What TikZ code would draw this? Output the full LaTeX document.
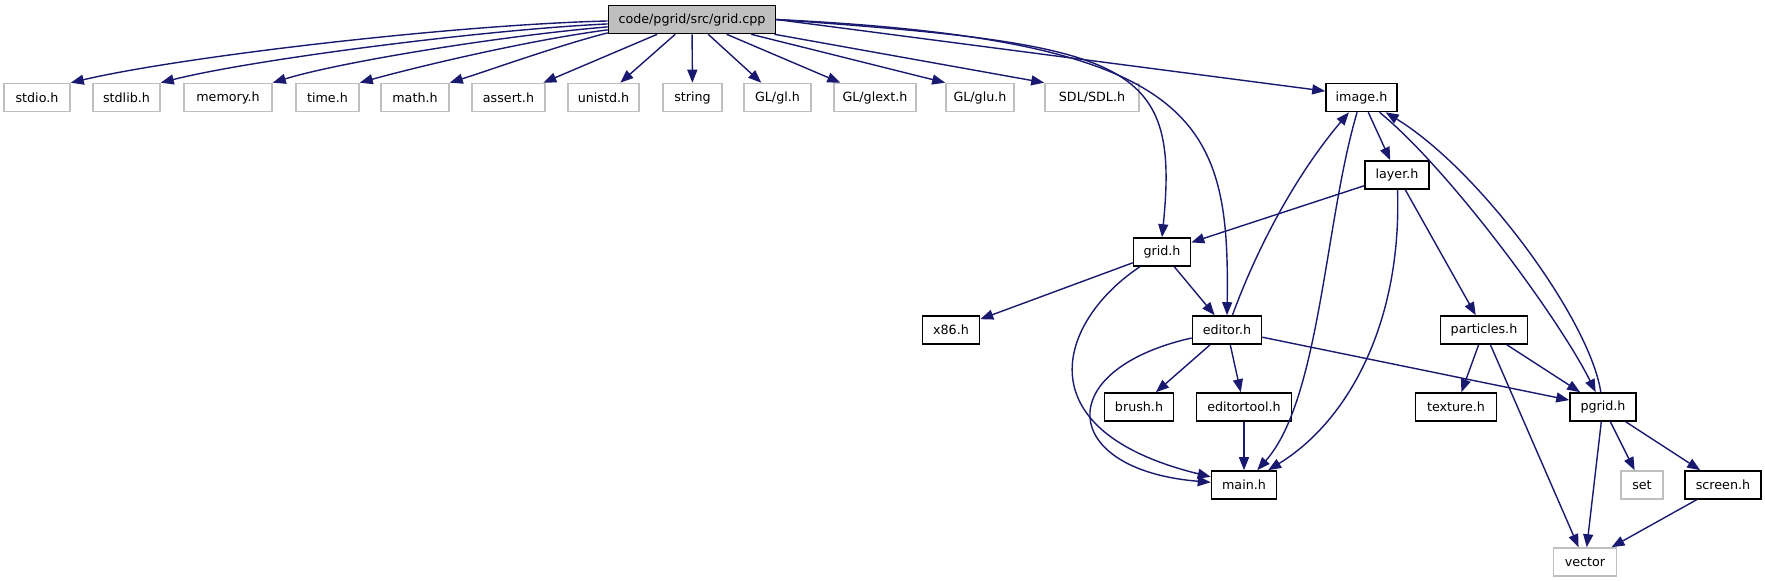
\documentclass[tikz,border=0pt]{standalone}
\usepackage{fontspec}
\setmainfont{DejaVu Sans}
\usetikzlibrary{arrows.meta}
\definecolor{edgeblue}{HTML}{191970}
\tikzset{
  hd/.style={rectangle,draw=black,fill=white,line width=1.6pt,minimum height=28pt,inner sep=0pt,font=\fontsize{12.7}{15}\selectfont},
  sys/.style={hd,draw=black!25},
  srcf/.style={hd,fill=black!25},
  dep/.style={draw=edgeblue,line width=1.4pt,-{Triangle[length=13pt,width=10pt]}},
}
\begin{document}
\begin{tikzpicture}[x=1pt,y=-1pt]
\useasboundingbox (0,0) rectangle (1765,581);
% the file itself
\node[srcf,minimum width=167pt] (root) at (692,19.5) {code/pgrid/src/grid.cpp};
% system and library headers
\node[sys,minimum width=66pt] (stdio) at (37,97.5) {stdio.h};
\node[sys,minimum width=67pt] (stdlib) at (126.5,97.5) {stdlib.h};
\node[sys,minimum width=88pt] (memory) at (228,97.5) {memory.h};
\node[sys,minimum width=63pt] (time) at (327.5,97.5) {time.h};
\node[sys,minimum width=68pt] (math) at (415,97.5) {math.h};
\node[sys,minimum width=73pt] (assert) at (508.5,97.5) {assert.h};
\node[sys,minimum width=71pt] (unistd) at (603.5,97.5) {unistd.h};
\node[sys,minimum width=59pt] (string) at (692.5,97.5) {string};
\node[sys,minimum width=67pt] (gl) at (777.5,97.5) {GL/gl.h};
\node[sys,minimum width=82pt] (glext) at (875,97.5) {GL/glext.h};
\node[sys,minimum width=68pt] (glu) at (980,97.5) {GL/glu.h};
\node[sys,minimum width=94pt] (sdl) at (1092,97.5) {SDL/SDL.h};
% project headers
\node[hd,minimum width=71pt] (image) at (1361.5,97.5) {image.h};
\node[hd,minimum width=64pt] (layer) at (1397,175) {layer.h};
\node[hd,minimum width=57pt] (grid) at (1162,252) {grid.h};
\node[hd,minimum width=57pt] (x86) at (951,330) {x86.h};
\node[hd,minimum width=69pt] (editor) at (1227,330) {editor.h};
\node[hd,minimum width=87pt] (particles) at (1484,330) {particles.h};
\node[hd,minimum width=69pt] (brush) at (1139,407) {brush.h};
\node[hd,minimum width=95pt] (editortool) at (1244,407) {editortool.h};
\node[hd,minimum width=81pt] (texture) at (1456,407) {texture.h};
\node[hd,minimum width=66pt] (pgrid) at (1603,407) {pgrid.h};
\node[hd,minimum width=65pt] (mainh) at (1244,485) {main.h};
\node[sys,minimum width=42pt] (set) at (1642,485) {set};
\node[hd,minimum width=76pt] (screen) at (1723,485) {screen.h};
\node[sys,minimum width=63pt] (vector) at (1585,562) {vector};

% edges out of grid.cpp
\draw[dep] (root.181) .. controls (450,25) and (180,57) .. (stdio.north east);
\draw[dep] (root.183) .. controls (480,30) and (250,60) .. (stdlib.north east);
\draw[dep] (root.185) .. controls (500,36) and (340,62) .. (memory.north east);
\draw[dep] (root.187) .. controls (530,40) and (420,66) .. (time.north east);
\draw[dep] (root.189) .. controls (560,45) and (490,70) .. (math.north east);
\foreach \t in {assert,unistd,string,gl,glext}
  \draw[dep] (root) -- (\t);
\draw[dep] (root) -- (glu.north west);
\draw[dep] (root) -- (sdl.north west);
\draw[dep] (root.east) -- (image.170);
\draw[dep] (root.east) .. controls (1130,45) and (1180,60) .. (grid.north);
\draw[dep] (root.east) .. controls (1200,40) and (1230,120) .. (editor.north);

\draw[dep] (image) -- (layer);
\draw[dep] (image) .. controls (1325,220) and (1320,400) .. (mainh);
\draw[dep] (image) .. controls (1450,170) and (1560,320) .. (pgrid);
\draw[dep] (layer) -- (grid);
\draw[dep] (layer) .. controls (1402,320) and (1350,420) .. (mainh);
\draw[dep] (layer) -- (particles);
\draw[dep] (grid) -- (x86);
\draw[dep] (grid) -- (editor);
\draw[dep] (grid) .. controls (1060,320) and (1020,430) .. (mainh);
\draw[dep] (editor) .. controls (1260,240) and (1300,170) .. (image);
\draw[dep] (editor) -- (brush);
\draw[dep] (editor) -- (editortool);
\draw[dep] (editor) .. controls (1050,370) and (1060,470) .. (mainh);
\draw[dep] (editor) -- (pgrid);
\draw[dep] (editortool) -- (mainh);
\draw[dep] (particles) -- (texture);
\draw[dep] (particles) -- (pgrid);
\draw[dep] (particles) -- (vector);
\draw[dep] (pgrid) .. controls (1590,320) and (1480,170) .. (image);
\draw[dep] (pgrid) -- (set);
\draw[dep] (pgrid) -- (screen);
\draw[dep] (pgrid) -- (vector);
\draw[dep] (screen) -- (vector);
\end{tikzpicture}
\end{document}
